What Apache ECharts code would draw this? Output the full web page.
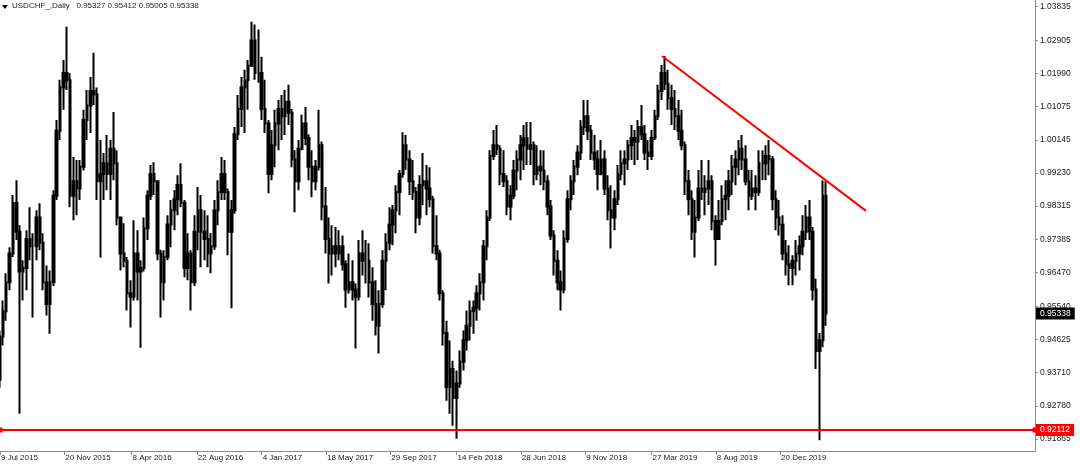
<!DOCTYPE html>
<html><head><meta charset="utf-8">
<script src="https://cdn.jsdelivr.net/npm/echarts@6/dist/echarts.min.js"></script>
<style>html,body{margin:0;padding:0;background:#fff}#c{width:1080px;height:467px}</style>
</head><body><div id="c"></div>
<script>
// ---- data (weekly OHLC) ----
const firstWeekMid = [2015, 6, 8]; // Wednesday 8 Jul 2015, one bar per week
const weekOpen = [
.9350,.9470,.9540,.9620,.9700,.9840,.9760,.9650,.9660,.9740,
.9720,.9720,.9800,.9730,.9620,.9560,.9620,.9860,1.0040,1.0160,
1.0200,1.0180,.9860,.9900,.9880,.9940,1.0070,1.0110,1.0150,1.0140,
.9900,.9920,.9950,.9920,.9990,.9950,.9800,.9700,.9680,.9590,
.9580,.9700,.9650,.9660,.9770,.9860,.9920,.9900,.9700,.9620,
.9690,.9780,.9820,.9850,.9890,.9840,.9660,.9700,.9620,.9760,
.9820,.9760,.9740,.9700,.9720,.9820,.9870,.9920,.9870,.9760,
.9820,1.0030,1.0100,1.0160,1.0180,1.0220,1.0290,1.0200,1.0200,1.0100,
1.0060,.9920,1.0000,1.0060,1.0100,1.0080,1.0120,1.0090,.9960,.9900,
.9990,1.0060,1.0020,.9940,.9900,.9940,1.0000,.9830,.9740,.9700,
.9720,.9700,.9720,.9670,.9600,.9620,.9600,.9580,.9700,.9680,
.9680,.9620,.9560,.9500,.9560,.9680,.9730,.9780,.9820,.9870,
.9920,1.0000,.9960,.9900,.9870,.9800,.9890,.9900,.9880,.9850,
.9720,.9700,.9590,.9480,.9330,.9380,.9300,.9340,.9400,.9460,
.9500,.9540,.9550,.9590,.9620,.9720,.9800,.9970,1.0000,.9990,
.9920,.9900,.9830,.9860,.9930,.9960,1.0000,1.0020,.9990,1.0000,
.9920,.9940,.9930,.9900,.9830,.9750,.9680,.9620,.9600,.9740,
.9850,.9900,.9940,.9980,1.0050,1.0080,1.0040,.9980,.9960,.9920,
.9960,.9880,.9820,.9800,.9850,.9920,.9950,.9960,1.0000,1.0020,
1.0010,1.0050,1.0030,.9980,.9970,1.0020,1.0080,1.0150,1.0200,1.0170,
1.0130,1.0100,1.0080,1.0040,1.0000,.9900,.9850,.9760,.9800,.9880,
.9870,.9880,.9900,.9790,.9740,.9790,.9850,.9860,.9900,.9940,
.9960,.9990,.9960,.9900,.9860,.9880,.9870,.9950,.9950,.9970,
.9960,.9850,.9800,.9780,.9700,.9670,.9660,.9680,.9700,.9720,
.9760,.9800,.9760,.9600,.9430,.9460,.9860];
const weekHigh = [
.9487,.9570,.9645,.9717,.9862,.9903,.9778,.9681,.9764,.9828,
.9756,.9820,.9839,.9756,.9667,.9653,.9875,1.0070,1.0181,1.0236,
1.0328,1.0200,.9967,.9959,.9959,1.0098,1.0153,1.0189,1.0256,1.0160,
1.0014,.9978,1.0028,1.0014,1.0092,.9986,.9800,.9784,.9690,.9626,
.9792,.9764,.9681,.9800,.9875,.9945,.9953,.9903,.9710,.9709,
.9806,.9848,.9875,.9917,.9950,.9848,.9756,.9709,.9806,.9884,
.9862,.9820,.9806,.9756,.9848,.9903,.9967,.9959,.9880,.9848,
1.0050,1.0139,1.0189,1.0209,1.0236,1.0342,1.0334,1.0320,1.0245,1.0181,
1.0070,1.0042,1.0098,1.0125,1.0139,1.0153,1.0167,1.0100,.9986,1.0014,
1.0084,1.0106,1.0030,.9986,.9959,1.0098,1.0010,.9884,.9800,.9778,
.9773,.9764,.9750,.9681,.9700,.9681,.9617,.9737,.9764,.9737,
.9728,.9662,.9626,.9598,.9709,.9756,.9828,.9834,.9889,.9931,
1.0036,1.0028,.9986,.9959,.9884,.9917,.9978,.9945,.9939,.9860,
.9806,.9710,.9598,.9514,.9459,.9403,.9376,.9431,.9487,.9542,
.9570,.9570,.9612,.9645,.9737,.9820,.9986,1.0042,1.0056,1.0000,
.9986,.9917,.9889,.9959,.9986,1.0028,1.0056,1.0064,1.0064,1.0010,
1.0000,.9986,.9986,.9917,.9848,.9764,.9709,.9653,.9764,.9875,
.9917,.9959,1.0000,1.0070,1.0125,1.0125,1.0056,1.0028,.9986,1.0014,
.9986,.9917,.9889,.9875,.9945,.9986,.9986,1.0014,1.0056,1.0042,
1.0070,1.0111,1.0056,1.0014,1.0042,1.0098,1.0167,1.0222,1.0247,1.0209,
1.0167,1.0153,1.0125,1.0098,1.0010,.9931,.9875,.9848,.9931,.9959,
.9917,.9959,.9917,.9806,.9848,.9889,.9903,.9931,.9973,.9986,
1.0014,1.0028,1.0000,.9931,.9931,.9917,.9986,.9986,1.0000,1.0014,
.9970,.9875,.9848,.9806,.9737,.9723,.9695,.9737,.9750,.9806,
.9834,.9848,.9773,.9630,.9480,.9902,.9900];
const weekLow = [
.9328,.9445,.9514,.9598,.9690,.9737,.9256,.9570,.9598,.9681,
.9523,.9681,.9709,.9598,.9528,.9478,.9610,.9848,1.0014,1.0098,
1.0153,.9828,.9792,.9806,.9848,.9930,1.0014,1.0034,1.0111,.9848,
.9689,.9848,.9875,.9848,.9903,.9778,.9653,.9662,.9542,.9495,
.9570,.9570,.9439,.9650,.9737,.9848,.9862,.9681,.9523,.9570,
.9681,.9717,.9764,.9806,.9828,.9634,.9626,.9542,.9610,.9709,
.9662,.9681,.9662,.9645,.9710,.9778,.9848,.9848,.9695,.9548,
.9810,1.0014,1.0050,1.0034,1.0098,1.0217,1.0181,1.0173,1.0070,1.0034,
.9867,.9903,.9939,.9986,1.0014,1.0028,1.0056,.9939,.9814,.9875,
.9986,1.0000,.9903,.9856,.9875,.9930,.9792,.9700,.9617,.9639,
.9662,.9681,.9653,.9550,.9589,.9570,.9437,.9570,.9639,.9617,
.9578,.9514,.9473,.9423,.9550,.9598,.9709,.9723,.9756,.9806,
.9910,.9931,.9862,.9848,.9756,.9778,.9834,.9806,.9828,.9700,
.9681,.9570,.9445,.9292,.9256,.9223,.9187,.9328,.9376,.9431,
.9459,.9478,.9514,.9542,.9570,.9681,.9790,.9959,.9973,.9889,
.9884,.9806,.9792,.9850,.9875,.9903,.9931,.9945,.9945,.9889,
.9903,.9889,.9875,.9806,.9737,.9639,.9598,.9542,.9590,.9730,
.9820,.9862,.9917,.9959,1.0028,1.0014,.9959,.9931,.9875,.9917,
.9862,.9792,.9714,.9764,.9834,.9903,.9889,.9931,.9959,.9945,
.9959,1.0014,.9959,.9931,.9959,1.0014,1.0070,1.0125,1.0153,1.0098,
1.0056,1.0042,1.0014,.9986,.9862,.9806,.9737,.9689,.9790,.9848,
.9806,.9834,.9764,.9667,.9737,.9778,.9792,.9820,.9862,.9889,
.9917,.9931,.9889,.9820,.9848,.9820,.9860,.9903,.9903,.9917,
.9820,.9764,.9750,.9681,.9639,.9612,.9612,.9639,.9653,.9695,
.9737,.9737,.9570,.9380,.9183,.9440,.9500];
const weekClose = [
.9470,.9540,.9620,.9700,.9840,.9760,.9650,.9660,.9740,.9720,
.9720,.9800,.9730,.9620,.9560,.9620,.9860,1.0040,1.0160,1.0200,
1.0180,.9860,.9900,.9880,.9940,1.0070,1.0110,1.0150,1.0140,.9900,
.9920,.9950,.9920,.9990,.9950,.9800,.9700,.9680,.9590,.9580,
.9700,.9650,.9660,.9770,.9860,.9920,.9900,.9700,.9620,.9690,
.9780,.9820,.9850,.9890,.9840,.9660,.9700,.9620,.9760,.9820,
.9760,.9740,.9700,.9720,.9820,.9870,.9920,.9870,.9760,.9820,
1.0030,1.0100,1.0160,1.0180,1.0220,1.0290,1.0200,1.0200,1.0100,1.0060,
.9920,1.0000,1.0060,1.0100,1.0080,1.0120,1.0090,.9960,.9900,.9990,
1.0060,1.0020,.9940,.9900,.9940,1.0000,.9830,.9740,.9700,.9720,
.9700,.9720,.9670,.9600,.9620,.9600,.9580,.9700,.9680,.9680,
.9620,.9560,.9500,.9560,.9680,.9730,.9780,.9820,.9870,.9920,
1.0000,.9960,.9900,.9870,.9800,.9890,.9900,.9880,.9850,.9720,
.9700,.9590,.9480,.9330,.9380,.9300,.9340,.9400,.9460,.9500,
.9540,.9550,.9590,.9620,.9720,.9800,.9970,1.0000,.9990,.9920,
.9900,.9830,.9860,.9930,.9960,1.0000,1.0020,.9990,1.0000,.9920,
.9940,.9930,.9900,.9830,.9750,.9680,.9620,.9600,.9740,.9850,
.9900,.9940,.9980,1.0050,1.0080,1.0040,.9980,.9960,.9920,.9960,
.9880,.9820,.9800,.9850,.9920,.9950,.9960,1.0000,1.0020,1.0010,
1.0050,1.0030,.9980,.9970,1.0020,1.0080,1.0150,1.0200,1.0170,1.0130,
1.0100,1.0080,1.0040,1.0000,.9900,.9850,.9760,.9800,.9880,.9870,
.9880,.9900,.9790,.9740,.9790,.9850,.9860,.9900,.9940,.9960,
.9990,.9960,.9900,.9860,.9880,.9870,.9950,.9950,.9970,.9960,
.9850,.9800,.9780,.9700,.9670,.9660,.9680,.9700,.9720,.9760,
.9800,.9760,.9600,.9430,.9460,.9860,.95338];

const xLabelDates = ['2015-07-09','2015-11-20','2016-04-08','2016-08-22','2017-01-04','2017-05-18','2017-09-29','2018-02-14','2018-06-28','2018-11-09','2019-03-27','2019-08-08','2019-12-20'];
const xLabelText = ['9 Jul 2015','20 Nov 2015','8 Apr 2016','22 Aug 2016','4 Jan 2017','18 May 2017','29 Sep 2017','14 Feb 2018','28 Jun 2018','9 Nov 2018','27 Mar 2019','8 Aug 2019','20 Dec 2019'];
const xRange = ['2015-07-09', '2021-06-03'];
const yTicks = [1.03835,1.02905,1.01990,1.01075,1.00145,0.99230,0.98315,0.97385,0.96470,0.95540,0.94625,0.93710,0.92780,0.91865];
const yRange = [0.9153, 1.0402];
const supportLevel = 0.92112;
const lastPrice = 0.95338;
const trendStart = ['2019-04-18', 1.0247];
const trendEnd = ['2020-06-16', 0.9818];
const titleText = 'USDCHF_,Daily   0.95327 0.95412 0.95005 0.95338';

// ---- build ----
function ts(s){ const p = s.split('-').map(Number); return new Date(p[0], p[1]-1, p[2]).getTime(); }
function weekTs(i){ return new Date(firstWeekMid[0], firstWeekMid[1], firstWeekMid[2] + 7*i).getTime(); }
const candles = weekOpen.map((o,i)=>[weekTs(i), o, weekClose[i], weekLow[i], weekHigh[i]]);
const xLabelTs = xLabelDates.map(ts);
const FONT = 'Liberation Sans, Arial, sans-serif';
const TXT = '#1a1a1a';

const chart = echarts.init(document.getElementById('c'), null, {renderer:'canvas'});
chart.setOption({
  animation: false,
  backgroundColor: '#ffffff',
  grid: {left: 0, right: 45, top: 0, bottom: 16, containLabel: false, outerBoundsMode: 'none'},
  xAxis: {
    type: 'value', min: ts(xRange[0]), max: ts(xRange[1]), scale: true,
    axisLine: {show: true, onZero: false, lineStyle: {color: '#8c8c8c', width: 1}},
    axisTick: {show: true, customValues: xLabelTs, length: 4, lineStyle: {color: '#8c8c8c'}},
    axisLabel: {
      customValues: xLabelTs, align: 'left', margin: 3, padding: [0,0,0,1],
      fontSize: 8, fontFamily: FONT, color: TXT,
      formatter: function(v){
        let best = 0, bd = Infinity;
        xLabelTs.forEach((t,k)=>{ const d = Math.abs(t - v); if (d < bd){ bd = d; best = k; } });
        return xLabelText[best];
      }
    },
    splitLine: {show: false}
  },
  yAxis: {
    type: 'value', position: 'right', min: yRange[0], max: yRange[1], scale: true,
    axisLine: {show: true, onZero: false, lineStyle: {color: '#8c8c8c', width: 1}},
    axisTick: {show: true, customValues: yTicks, length: 3, lineStyle: {color: '#8c8c8c'}},
    axisLabel: {customValues: yTicks, margin: 5, fontSize: 8.5, fontFamily: FONT, color: TXT,
      formatter: v => v.toFixed(5)},
    splitLine: {show: false}
  },
  graphic: [
    {type: 'polygon', shape: {points: [[2,5],[8,5],[5,9]]}, style: {fill: '#000'}},
    {type: 'text', left: 12, top: 2, style: {text: titleText, font: '8px ' + FONT, fill: TXT}}
  ],
  series: [
    {
      type: 'candlestick', name: 'USDCHF',
      data: candles, encode: {x: 0, y: [1,2,3,4]},
      barWidth: 2,
      itemStyle: {color: '#000', color0: '#000', borderColor: '#000', borderColor0: '#000', borderWidth: 2},
      markLine: {
        silent: true, animation: false, precision: 5,
        symbol: ['rect','rect'], symbolSize: 5,
        lineStyle: {color: '#ff0000', width: 2, type: 'solid'},
        label: {show: true, position: 'end', distance: 1, formatter: p => p.value.toFixed(5),
          color: '#fff', backgroundColor: '#ff0000', padding: [2,4,1,4], fontSize: 8.5, fontFamily: FONT},
        data: [{yAxis: supportLevel}]
      }
    },
    {
      type: 'line', name: 'trend', data: [[ts(trendStart[0]), trendStart[1]], [ts(trendEnd[0]), trendEnd[1]]],
      symbol: 'none', lineStyle: {color: '#ff0000', width: 2}, z: 5,
      markLine: {
        silent: true, animation: false, precision: 5, symbol: 'none',
        lineStyle: {color: 'rgba(0,0,0,0)', width: 0},
        label: {show: true, position: 'end', distance: 1, formatter: p => p.value.toFixed(5),
          color: '#fff', backgroundColor: '#000', padding: [2,4,1,4], fontSize: 8.5, fontFamily: FONT},
        data: [{yAxis: lastPrice}]
      }
    }
  ]
});
</script></body></html>
